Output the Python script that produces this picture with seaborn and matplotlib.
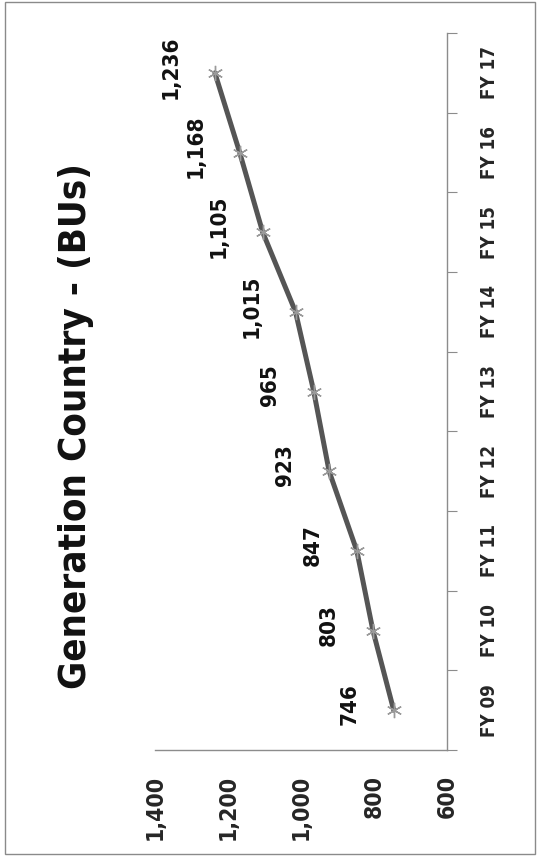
import numpy as np
import pandas as pd
import matplotlib
matplotlib.use("Agg")
import matplotlib.pyplot as plt
import seaborn as sns
from matplotlib.patches import Rectangle

years = ["FY 09", "FY 10", "FY 11", "FY 12", "FY 13", "FY 14", "FY 15", "FY 16", "FY 17"]
generation = [746, 803, 847, 923, 965, 1015, 1105, 1168, 1236]
value_ticks = [600, 800, 1000, 1200, 1400]
title = "Generation Country - (BUs)"

sns.set_style("white")
plt.rcParams["font.family"] = ["DejaVu Sans"]
plt.rcParams["font.stretch"] = "condensed"

df = pd.DataFrame({"fy": years, "generation": generation})
df["pos"] = np.arange(len(df))

W, H = 540, 866
fig = plt.figure(figsize=(W / 100, H / 100), dpi=100)
# the whole chart is turned 90 deg counter-clockwise, values run right -> left
ax = fig.add_axes([155 / W, 116 / H, 292 / W, 717 / H])

sns.lineplot(data=df, x="generation", y="pos", orient="y", sort=False, ax=ax,
             color="#555555", lw=3.6, marker=(6, 2, 0), markersize=11,
             mec="#9a9a9a", mew=1.0)

ax.set_xlim(1400, 600)
ax.set_ylim(-0.5, len(years) - 0.5)
ax.set_xlabel("")
ax.set_ylabel("")

for s in ["top", "left"]:
    ax.spines[s].set_visible(False)
for s in ["bottom", "right"]:
    ax.spines[s].set_color("#8c8c8c")
    ax.spines[s].set_linewidth(1.0)

ax.set_xticks(value_ticks, [f"{v:,}" for v in value_ticks], rotation=90,
              fontsize=16.5, fontweight="bold")
ax.tick_params(axis="x", length=4, width=0.8, color="#8c8c8c",
               direction="inout", pad=16)

ax.yaxis.tick_right()
ax.set_yticks(df["pos"], years, rotation=90, va="center",
              fontsize=13.5, fontweight="bold")
ax.set_yticks(np.arange(len(years) + 1) - 0.5, minor=True)
ax.tick_params(axis="y", which="major", length=0, pad=24)
ax.tick_params(axis="y", which="minor", length=7, width=0.8,
               color="#8c8c8c", direction="out")

for v, p in zip(df["generation"], df["pos"]):
    ax.annotate(f"{v:,}", (v, p), xytext=(-31.7, 4.3), textcoords="offset points",
                rotation=90, ha="center", va="center",
                fontsize=16, fontweight="bold", color="#111111")

fig.text(76 / W, 1 - 426 / H, title, rotation=90, ha="center", va="center",
         fontsize=27.5, fontweight="bold", color="#111111")

fig.add_artist(Rectangle((5 / W, 12 / H), 530 / W, 852 / H,
                         transform=fig.transFigure, fill=False,
                         edgecolor="#8a8a8a", lw=1.0))

fig.savefig("out.png", dpi=100)
